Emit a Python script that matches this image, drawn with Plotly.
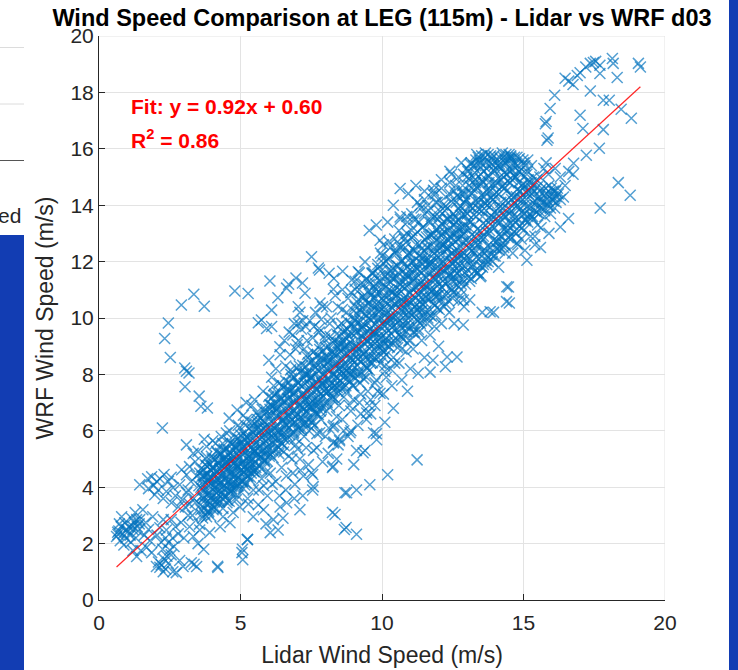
import plotly.graph_objects as go

# ---- data (Lidar wind speed, WRF wind speed), m/s ----
pts_low = [
    (0.62,2.25),(0.67,2.32),(0.70,2.45),(0.75,2.10),(0.78,2.60),(0.85,2.35),(0.91,2.74),(0.95,2.20),(0.98,2.50),(0.72,2.70),(0.88,1.95),(0.66,2.40),(0.80,2.95),
    (1.05,2.60),(1.10,2.30),(1.15,2.90),(1.20,2.50),(1.25,2.75),(1.30,2.20),(1.35,2.60),(1.44,2.85),(1.12,2.05),(1.28,3.10),(1.38,2.45),(1.20,1.75),(1.42,2.70),(1.18,2.62),(1.33,2.85),(1.02,2.42),
    (1.33,1.54),(1.48,1.75),(1.55,3.20),(1.44,4.09),(1.68,1.86),(1.86,1.68),(1.60,2.30),(1.65,2.75),(1.75,2.50),(1.80,2.10),(1.90,2.95),(1.86,4.37),(2.04,4.20),(1.97,3.73),(1.75,3.95),(1.72,4.30),(1.92,4.05),(2.10,3.90),
    (2.03,1.19),(2.27,1.00),(2.15,1.16),(2.10,1.35),(2.20,1.25),(2.30,1.45),(2.35,1.10),(2.45,1.30),(2.61,1.00),(2.73,0.97),(2.40,1.55),(2.50,1.77),(2.45,2.03),(2.38,2.48),(2.15,2.56),(2.27,2.85),(2.05,2.30),(2.20,2.05),(2.55,1.60),(2.65,1.90),(2.60,2.20),(2.70,2.60),(2.55,2.85),(2.80,2.35),(2.90,2.75),(2.25,1.80),(2.35,2.20),
    (2.56,3.45),(2.38,3.85),(2.62,3.98),(2.85,4.09),(2.27,3.60),(2.45,4.20),(2.70,3.70),(2.80,3.30),(2.92,4.62),(2.95,3.55),(2.97,1.19),(2.85,1.40),(2.30,4.45),(2.55,4.35),(2.15,4.30),
    (3.05,3.30),(3.15,3.90),(3.25,4.20),(3.35,3.60),(3.45,4.40),(3.30,3.00),(3.40,4.90),(3.20,3.40),
]

pts_blob = [
    (3.09,4.44),(3.20,4.73),(3.33,5.20),(3.09,5.50),(3.50,5.27),(3.80,5.44),(3.26,1.32),(3.45,1.19),(4.20,1.15),(3.33,2.25),(3.56,2.48),(3.91,2.39),(4.28,2.60),(4.63,2.74),(3.80,2.95),(4.03,3.20),(4.38,2.95),(4.74,3.10),(4.85,3.56),(4.50,3.66),(4.16,3.80),(3.67,3.90),(3.56,4.50),(4.03,4.73),(3.80,5.08),(4.16,5.27),(4.63,5.56),(4.50,5.92),(4.98,5.68),(5.33,5.80),(5.44,5.33),(3.36,1.27),(4.19,1.20),(3.15,3.00),(3.40,3.45),(3.10,3.80),(3.60,3.20),(3.00,2.20),(3.20,2.60),(3.70,1.80),(3.50,2.00),
    (3.60,4.00),(3.70,4.40),(3.75,4.80),(3.85,4.20),(3.90,3.70),(3.95,4.60),(4.00,5.00),(4.05,4.10),(4.10,4.45),(4.15,3.50),(4.20,4.85),(4.25,4.05),(4.30,5.20),(4.35,4.40),(4.40,3.80),(4.45,4.70),(4.50,5.05),(4.55,4.20),(4.60,3.50),(4.65,4.90),(4.70,4.45),(4.75,5.30),(4.80,4.00),(4.85,4.75),(4.90,3.70),(4.95,5.10),(5.00,4.40),(5.05,4.85),(5.10,3.95),(5.15,5.40),(5.20,4.60),(5.25,3.60),(5.30,5.00),(5.35,4.25),(5.40,4.75),(5.45,3.90),(5.50,5.25),
    (4.12,5.55),(4.42,5.35),(4.72,5.00),(4.88,4.30),(5.02,4.62),(5.18,4.15),(5.38,4.50),(4.58,4.55),(4.28,4.65),(3.98,4.35),(4.68,3.95),(4.98,3.30),(5.28,3.40),(4.38,3.25),(3.88,3.15),(4.82,5.45),(5.12,5.70),(4.62,6.00),(4.92,6.20),(5.22,6.40),(4.32,5.80),(4.02,5.65),(3.72,5.70),
    (5.48,4.55),(5.08,4.20),(4.78,4.85),(4.48,4.90),(4.18,4.25),(4.92,4.05),(5.32,4.90),(4.52,3.45),(4.88,6.74),(5.10,6.55),(4.60,6.45),(5.40,6.90),(5.60,6.30),
]

pts_mid = [
    (5.24,2.14),(5.08,1.43),(5.05,1.68),(5.07,1.80),(5.25,2.15),(6.16,2.85),(6.05,2.39),(6.33,2.48),(6.40,3.30),(6.63,3.45),(5.81,3.20),(5.45,2.95),(5.63,3.38),(5.90,2.70),(6.50,2.90),(7.10,3.20),(7.55,3.90),(7.55,4.45),(7.20,3.70),(6.90,3.60),
    (5.55,4.60),(5.60,5.20),(5.65,3.90),(5.70,5.70),(5.75,4.30),(5.80,6.10),(5.85,4.90),(5.90,5.40),(5.95,3.70),(6.00,6.40),(6.05,4.50),(6.10,5.80),(6.15,5.05),(6.20,6.80),(6.25,4.20),(6.30,6.00),(6.35,5.40),(6.40,7.10),(6.45,4.70),(6.50,6.40),(6.55,5.70),(6.60,3.90),(6.65,6.90),(6.70,5.10),(6.75,7.40),(6.80,6.20),(6.85,4.50),(6.90,7.00),(6.95,5.50),(7.00,6.60),(7.05,7.70),(7.10,5.00),(7.15,6.10),(7.20,7.30),(7.25,5.80),(7.30,8.00),(7.35,6.70),(7.40,4.80),(7.45,7.50),(7.50,6.30),
    (5.72,5.05),(5.98,5.85),(6.12,4.10),(6.28,6.55),(6.42,5.95),(6.58,6.20),(6.72,6.50),(6.88,5.95),(7.02,5.35),(7.18,6.85),(7.32,5.40),(7.48,7.00),(5.62,6.55),(5.88,6.75),(6.18,7.25),(6.48,7.60),(6.78,8.00),(7.08,8.30),(7.38,8.60),(6.62,4.40),(6.92,4.10),(7.22,4.40),(5.82,4.05),(6.38,3.70),(7.12,4.60),(6.02,5.10),(6.52,5.25),(7.42,6.00),(6.22,5.55),(6.82,5.00),(5.92,4.55),(7.28,6.25),(6.68,7.15),(6.08,6.90),
    (6.72,9.50),(7.05,9.20),(6.40,8.70),(6.10,7.90),(5.80,7.40),(7.30,9.70),(6.95,8.90),(5.50,7.10),(5.20,7.00),(6.60,8.30),
    (6.39,8.98),(6.00,8.50),(6.55,9.20),(6.85,9.40),(7.15,9.60),(7.45,9.90),(7.65,10.20),(7.90,10.40),(7.35,9.20),(7.60,9.70),(6.25,8.20),(6.75,8.70),(7.00,9.05),(7.25,8.90),(7.55,9.30),(7.85,9.95),(8.04,10.40),(8.35,10.80),(8.60,11.00),(8.90,10.90),(9.20,11.60),
]

pts_outliers = [
    (2.91,10.46),(3.35,10.84),(3.72,10.42),(2.45,9.82),(2.32,9.27),(2.52,8.60),(3.03,8.23),(3.09,8.11),(3.18,8.05),(3.04,7.56),(3.54,7.23),(3.83,6.81),(3.60,6.87),(2.24,6.10),
    (4.80,10.96),(5.27,10.87),(6.04,11.31),(6.32,10.72),(6.63,11.06),(6.96,11.42),(7.19,11.24),(7.28,10.88),(6.70,11.20),(6.10,10.28),(5.74,9.93),(5.63,9.83),(5.92,9.63),(6.10,9.70),(7.04,10.40),(7.10,10.20),(7.04,9.81),(7.20,9.90),(7.78,9.63),(6.90,9.80),
    (7.51,12.17),(7.75,11.77),(7.79,11.70),(8.13,11.59),(8.30,11.40),(8.61,11.66),(8.93,11.35),(9.16,11.64),(9.40,11.99),(8.28,11.02),(7.81,10.53),
    (8.25,3.10),(8.67,2.50),(8.25,4.70),(8.40,5.00),(8.30,5.60),(8.50,5.70),(8.34,3.03),(8.73,2.57),(9.10,2.33),(8.69,3.80),(9.10,3.90),(9.57,4.09),(10.20,4.44),(11.24,4.97),(9.00,4.80),(9.40,5.30),(9.80,5.90),(10.10,6.30),(7.90,4.90),(7.70,5.40),(8.90,6.00),(9.60,6.60),(10.40,6.80),
    (7.45,6.86),(7.80,5.93),(8.27,6.14),(8.65,6.00),(8.87,5.93),(9.46,6.63),(9.70,5.93),(9.81,5.68),(9.33,5.22),(9.10,5.30),(8.27,4.74),(7.51,4.51),(7.57,4.02),(8.75,3.80),(8.28,5.57),(8.50,5.65),(9.93,7.33),(9.60,7.10),
]

pts_upper_mid = [
    (7.55,6.80),(7.60,7.60),(7.65,8.40),(7.70,5.90),(7.75,7.10),(7.80,9.00),(7.85,6.40),(7.90,8.00),(7.95,7.40),(8.00,9.40),(8.05,6.70),(8.10,8.60),(8.15,7.80),(8.20,10.00),(8.25,7.10),(8.30,9.10),(8.35,8.30),(8.40,6.50),(8.45,9.70),(8.50,7.60),(8.55,8.80),(8.60,10.30),(8.65,7.20),(8.70,9.30),(8.75,8.10),(8.80,10.70),(8.85,6.90),(8.90,9.80),(8.95,8.50),(9.00,7.60),(9.05,10.40),(9.10,9.00),(9.15,8.10),(9.20,11.00),(9.25,7.30),(9.30,9.60),(9.35,8.70),(9.40,10.60),(9.45,7.90),(9.50,9.20),(9.55,11.30),(9.60,8.40),(9.65,10.10),(9.70,9.50),(9.75,7.70),(9.80,11.00),(9.85,8.90),(9.90,10.40),(9.95,9.70),(10.00,11.70),(10.05,8.60),(10.10,10.80),(10.15,9.30),(10.20,12.10),(10.25,10.00),(10.30,8.20),(10.35,11.40),(10.40,9.70),(10.45,10.50),(10.50,12.40),
    (7.62,6.20),(7.88,7.70),(8.12,6.10),(8.38,7.90),(8.62,8.50),(8.88,8.00),(9.12,9.50),(9.38,9.10),(9.62,9.90),(9.88,10.00),(10.12,10.30),(10.38,10.90),(7.72,8.70),(8.02,8.20),(8.28,8.70),(8.52,9.00),(8.78,9.60),(9.02,10.00),(9.28,10.20),(9.52,10.50),(9.78,10.70),(10.02,11.10),(10.28,11.50),
    (8.48,6.90),(8.72,7.60),(8.98,7.10),(9.22,7.70),(9.48,8.20),(9.72,8.60),(9.98,9.00),(10.22,9.00),(10.48,9.30),(7.58,5.30),(7.82,6.70),(8.08,7.40),(8.32,7.60),(8.58,8.10),(8.82,9.00),(9.08,8.60),(9.32,9.30),(9.58,9.60),(9.82,9.30),(10.08,9.90),(10.32,10.40),
    (8.15,9.80),(8.45,10.40),(8.75,10.20),(9.05,11.30),(9.35,11.20),(9.65,11.60),(9.95,12.30),(10.25,12.70),(7.50,7.90),(7.78,9.50),(10.45,8.40),(10.15,7.90),(9.85,7.40),(9.55,6.90),(9.25,6.60),
    (7.40,6.20),(7.70,6.60),(8.00,5.80),(8.30,6.20),(8.60,6.40),(8.90,6.70),(9.20,7.00),(9.50,7.40),(9.80,7.80),(10.10,8.10),(8.10,5.20),(8.45,5.50),(8.80,5.80),(9.15,6.20),(9.45,6.40),(9.75,6.90),(10.05,7.30),(10.35,7.60),(10.60,8.40),(10.85,8.80),(11.10,8.90),(11.40,9.20),(11.70,9.40),(12.10,9.80),
]

pts_upper = [
    (10.64,14.59),(10.93,14.41),(10.88,13.60),(10.64,13.58),(9.93,12.76),(10.20,13.40),(10.40,14.00),(11.20,14.70),(11.50,14.50),(11.82,14.53),(12.10,14.90),(12.40,15.20),(12.80,15.50),(9.55,13.10),(9.80,13.30),
    (11.28,8.04),(11.70,8.08),(12.24,8.27),(12.30,8.62),(12.65,8.62),(12.87,9.75),(13.54,10.20),(13.94,10.20),(14.47,11.10),(14.50,10.53),(13.82,10.22),(14.41,11.11),(14.40,10.58),(12.87,10.64),(10.70,7.80),(11.00,8.20),(10.90,7.40),(11.50,8.60),(12.00,9.00),(11.80,8.50),
    (10.55,10.00),(10.60,11.00),(10.65,12.00),(10.70,9.30),(10.75,10.60),(10.80,12.80),(10.85,11.50),(10.90,9.80),(10.95,12.30),(11.00,10.90),(11.05,13.10),(11.10,9.50),(11.15,11.70),(11.20,12.60),(11.25,10.30),(11.30,13.40),(11.35,11.20),(11.40,9.90),(11.45,12.20),(11.50,13.70),(11.55,10.70),(11.60,11.90),(11.65,12.90),(11.70,10.10),(11.75,13.60),(11.80,11.40),(11.85,12.50),(11.90,14.10),(11.95,10.80),(12.00,12.00),(12.05,13.20),(12.10,11.10),(12.15,14.00),(12.20,12.60),(12.25,10.50),(12.30,13.50),(12.35,11.80),(12.40,14.40),(12.45,12.30),(12.50,10.90),(12.55,13.00),(12.60,14.70),(12.65,11.60),(12.70,12.80),(12.75,13.80),(12.80,11.20),(12.85,14.40),(12.90,12.10),(12.95,13.30),(13.00,15.00),
    (10.58,11.60),(10.82,10.30),(11.08,12.00),(11.32,12.00),(11.58,12.50),(11.82,13.00),(12.08,12.50),(12.32,12.80),(12.58,12.00),(12.82,12.90),(10.72,11.30),(10.98,11.70),(11.22,11.10),(11.48,11.50),(11.72,12.00),(11.98,13.50),(12.22,13.80),(12.48,13.50),(12.72,14.30),(12.98,14.20),
    (10.62,12.60),(10.88,13.00),(11.12,13.50),(11.38,13.90),(11.62,14.00),(11.88,14.40),(12.12,13.00),(12.38,13.10),(12.62,13.40),(12.88,15.10),(10.68,10.50),(10.92,10.10),(11.18,10.70),(11.42,10.50),(11.68,11.00),(11.92,11.60),(12.18,11.90),(12.42,11.50),(12.68,12.40),(12.92,11.60),(11.28,9.60),(11.62,10.00),(12.02,10.30),(12.38,10.20),(12.78,10.80),(10.95,9.20),(11.85,9.70),(12.55,9.80),
]

pts_high = [
    (13.05,12.50),(13.10,14.00),(13.15,15.50),(13.20,11.80),(13.25,13.30),(13.30,14.80),(13.35,12.80),(13.40,15.70),(13.45,14.20),(13.50,11.50),(13.55,13.60),(13.60,15.20),(13.65,12.40),(13.70,14.50),(13.75,15.80),(13.80,13.10),(13.85,14.00),(13.90,12.00),(13.95,15.40),(14.00,13.50),(14.05,14.80),(14.10,12.70),(14.15,15.70),(14.20,14.10),(14.25,13.20),(14.30,15.00),(14.35,12.30),(14.40,14.50),(14.45,15.60),(14.50,13.70),(14.55,12.90),(14.60,14.90),(14.65,15.50),(14.70,13.40),(14.75,14.30),(14.80,12.60),(14.85,15.20),(14.90,13.90),(14.95,14.70),(15.00,13.10),(15.05,15.40),(15.10,14.20),(15.15,13.60),(15.20,14.80),(15.25,12.90),(15.30,14.40),(15.35,15.00),(15.40,13.80),(15.45,14.10),(15.50,13.30),
    (13.08,13.20),(13.22,15.00),(13.38,13.90),(13.52,14.90),(13.68,13.80),(13.82,15.50),(13.98,14.40),(14.12,13.90),(14.28,14.70),(14.42,13.30),(14.58,14.20),(14.72,15.00),(14.88,14.50),(15.02,14.00),(15.18,14.50),(15.32,13.60),(13.12,12.10),(13.28,12.30),(13.42,12.60),(13.58,12.90),(13.72,12.20),(13.88,13.60),(14.02,12.50),(14.18,12.90),(14.32,13.60),(14.48,13.10),(14.62,13.60),(14.78,13.90),(14.92,12.80),(15.08,13.50),(15.22,13.70),
    (13.18,14.60),(13.32,15.40),(13.48,15.50),(13.62,14.10),(13.78,14.80),(13.92,14.20),(14.08,15.40),(14.22,15.30),(14.38,15.80),(14.52,15.20),(14.68,15.70),(14.82,14.80),(14.98,15.60),(15.12,15.10),(15.28,15.40),(13.02,13.70),(13.58,11.90),(14.12,11.80),(14.62,12.30),(15.05,12.40),(13.35,15.80),(13.65,15.85),(13.95,15.75),(14.25,15.85),(14.55,15.75),(14.85,15.65),(15.15,15.60),
    (13.30,12.40),(14.17,12.52),(14.76,12.65),(15.40,12.90),(13.47,11.46),(13.10,10.64),(12.90,10.40),(12.70,10.60),
    (15.55,14.30),(15.60,13.90),(15.65,14.60),(15.70,14.10),(15.75,13.60),(15.80,14.40),(15.85,14.00),(15.90,14.70),(15.95,13.70),(16.00,14.20),(16.05,14.50),(16.10,13.90),(16.15,14.30),(16.20,14.60),(16.30,14.20),(16.41,14.29),(15.58,15.00),(15.72,15.30),(15.88,15.10),(15.62,13.20),(15.90,13.00),(15.40,12.60),(15.60,12.50),
    (16.30,13.23),(16.59,13.53),(15.12,12.05),(16.77,15.49),(16.75,15.10),(16.47,14.70),(16.60,15.20),(16.30,15.00),(16.12,15.30),(15.80,15.50),
]

pts_top = [
    (16.47,18.50),(16.75,18.28),(17.00,18.70),(17.36,19.03),(17.47,19.06),(17.70,18.96),(17.70,18.67),(18.14,19.20),(18.17,19.03),(18.31,18.53),(19.06,19.03),(19.13,18.90),(17.36,18.05),(16.10,17.90),(15.94,17.43),(15.80,16.97),(15.87,16.38),(17.00,17.19),(17.10,16.72),(17.82,17.72),(18.03,17.72),(18.45,17.40),(18.81,17.08),(17.82,16.68),(17.68,16.02),(17.22,15.77),(18.35,14.80),(18.77,14.35),(17.71,13.90),(15.83,16.30),(15.77,16.89),(16.90,18.60),(17.20,18.90),(17.55,19.10),(16.60,18.40),
]

# dense core of the cloud (rows read along the band)
pts_core_a = [
    (3.55,2.69),(3.62,3.03),(3.58,3.37),(3.66,3.71),(3.53,4.05),(3.64,4.39),(3.60,4.65),(3.68,3.62),
    (3.74,3.05),(3.83,3.39),(3.78,3.73),(3.86,4.07),(3.72,4.41),(3.81,4.75),(3.77,5.00),(3.88,4.33),
    (3.95,2.98),(4.03,3.31),(3.98,3.65),(4.07,3.99),(3.93,4.34),(4.01,4.68),(3.97,5.10),(4.09,3.48),
    (4.15,3.24),(4.22,3.58),(4.18,3.92),(4.26,4.26),(4.13,4.60),(4.24,4.94),(4.20,5.20),(4.28,4.17),
    (4.34,3.60),(4.43,3.94),(4.38,4.28),(4.46,4.62),(4.32,4.96),(4.41,5.30),(4.37,5.55),(4.48,4.88),
    (4.55,3.53),(4.63,3.86),(4.58,4.20),(4.67,4.54),(4.53,4.89),(4.61,5.23),(4.57,5.65),(4.69,4.03),
    (4.75,3.80),(4.82,4.14),(4.78,4.48),(4.86,4.82),(4.73,5.16),(4.84,5.50),(4.80,5.76),(4.88,4.73),
    (4.94,4.15),(5.03,4.49),(4.98,4.83),(5.06,5.17),(4.92,5.51),(5.01,5.85),(4.97,6.10),(5.08,5.43),
    (5.15,4.08),(5.23,4.41),(5.18,4.75),(5.27,5.09),(5.13,5.44),(5.21,5.78),(5.17,6.20),(5.29,4.58),
    (5.35,4.35),(5.42,4.69),(5.38,5.03),(5.46,5.37),(5.33,5.71),(5.44,6.05),(5.40,6.31),(5.48,5.28),
    (5.54,4.70),(5.63,5.04),(5.58,5.38),(5.66,5.72),(5.52,6.06),(5.61,6.40),(5.57,6.65),(5.68,5.98),
    (5.75,4.64),(5.83,4.97),(5.78,5.31),(5.87,5.65),(5.73,6.00),(5.81,6.34),(5.77,6.76),(5.89,5.14),
]

pts_core_a2 = [
    (3.66,2.91),(3.73,3.25),(3.69,3.59),(3.77,3.93),(3.64,4.27),(3.71,4.61),(3.75,3.42),(3.68,4.10),
    (3.86,3.10),(3.93,3.44),(3.89,3.78),(3.97,4.12),(3.84,4.46),(3.91,4.80),(3.95,3.61),(3.88,4.29),
    (4.06,3.28),(4.13,3.62),(4.09,3.96),(4.17,4.30),(4.04,4.64),(4.11,4.98),(4.15,3.79),(4.08,4.47),
    (4.26,3.47),(4.33,3.81),(4.29,4.15),(4.37,4.49),(4.24,4.83),(4.31,5.17),(4.35,3.98),(4.28,4.66),
    (4.46,3.65),(4.53,3.99),(4.49,4.33),(4.57,4.67),(4.44,5.01),(4.51,5.35),(4.55,4.16),(4.48,4.84),
    (4.66,3.83),(4.73,4.17),(4.69,4.51),(4.77,4.85),(4.64,5.19),(4.71,5.53),(4.75,4.34),(4.68,5.02),
    (4.86,4.02),(4.93,4.36),(4.89,4.70),(4.97,5.04),(4.84,5.38),(4.91,5.72),(4.95,4.53),(4.88,5.21),
    (5.06,4.20),(5.13,4.54),(5.09,4.88),(5.17,5.22),(5.04,5.56),(5.11,5.90),(5.15,4.71),(5.08,5.39),
    (5.26,4.39),(5.33,4.73),(5.29,5.07),(5.37,5.41),(5.24,5.75),(5.31,6.09),(5.35,4.90),(5.28,5.58),
    (5.46,4.57),(5.53,4.91),(5.49,5.25),(5.57,5.59),(5.44,5.93),(5.51,6.27),(5.55,5.08),(5.48,5.76),
    (5.66,4.75),(5.73,5.09),(5.69,5.43),(5.77,5.77),(5.64,6.11),(5.71,6.45),(5.75,5.26),(5.68,5.94),
    (5.86,4.94),(5.93,5.28),(5.89,5.62),(5.97,5.96),(5.84,6.30),(5.91,6.64),(5.95,5.45),(5.88,6.13),
]

pts_core_b = [
    (5.95,4.92),(6.02,5.32),(5.98,5.72),(6.06,6.12),(5.93,6.52),(6.04,6.92),(6.00,7.22),(6.08,6.02),
    (6.14,5.30),(6.23,5.70),(6.18,6.10),(6.26,6.50),(6.12,6.90),(6.21,7.30),(6.17,7.60),(6.28,6.80),
    (6.35,5.19),(6.43,5.59),(6.38,5.99),(6.47,6.39),(6.33,6.79),(6.41,7.19),(6.37,7.69),(6.49,5.79),
    (6.55,5.47),(6.62,5.87),(6.58,6.27),(6.66,6.67),(6.53,7.07),(6.64,7.47),(6.60,7.77),(6.68,6.57),
    (6.74,5.86),(6.83,6.26),(6.78,6.66),(6.86,7.06),(6.72,7.46),(6.81,7.86),(6.77,8.16),(6.88,7.36),
    (6.95,5.74),(7.03,6.14),(6.98,6.54),(7.07,6.94),(6.93,7.34),(7.01,7.74),(6.97,8.24),(7.09,6.34),
    (7.15,6.02),(7.22,6.42),(7.18,6.82),(7.26,7.22),(7.13,7.62),(7.24,8.02),(7.20,8.32),(7.28,7.12),
    (7.34,6.41),(7.43,6.81),(7.38,7.21),(7.46,7.61),(7.32,8.01),(7.41,8.41),(7.37,8.71),(7.48,7.91),
    (7.55,6.29),(7.63,6.69),(7.58,7.09),(7.67,7.49),(7.53,7.89),(7.61,8.29),(7.57,8.79),(7.69,6.89),
    (7.75,6.58),(7.82,6.98),(7.78,7.38),(7.86,7.78),(7.73,8.18),(7.84,8.58),(7.80,8.88),(7.88,7.68),
    (7.94,6.96),(8.03,7.36),(7.98,7.76),(8.06,8.16),(7.92,8.56),(8.01,8.96),(7.97,9.26),(8.08,8.46),
    (8.15,6.84),(8.23,7.24),(8.18,7.64),(8.27,8.04),(8.13,8.44),(8.21,8.84),(8.17,9.34),(8.29,7.44),
    (8.35,7.13),(8.42,7.53),(8.38,7.93),(8.46,8.33),(8.33,8.73),(8.44,9.13),(8.40,9.43),(8.48,8.23),
    (8.54,7.51),(8.63,7.91),(8.58,8.31),(8.66,8.71),(8.52,9.11),(8.61,9.51),(8.57,9.81),(8.68,9.01),
    (8.75,7.40),(8.83,7.80),(8.78,8.20),(8.87,8.60),(8.73,9.00),(8.81,9.40),(8.77,9.90),(8.89,8.00),
]

pts_core_b2 = [
    (6.06,5.16),(6.13,5.56),(6.09,5.96),(6.17,6.36),(6.04,6.76),(6.11,7.16),(6.15,5.76),(6.08,6.56),
    (6.26,5.35),(6.33,5.75),(6.29,6.15),(6.37,6.55),(6.24,6.95),(6.31,7.35),(6.35,5.95),(6.28,6.75),
    (6.46,5.53),(6.53,5.93),(6.49,6.33),(6.57,6.73),(6.44,7.13),(6.51,7.53),(6.55,6.13),(6.48,6.93),
    (6.66,5.71),(6.73,6.11),(6.69,6.51),(6.77,6.91),(6.64,7.31),(6.71,7.71),(6.75,6.31),(6.68,7.11),
    (6.86,5.90),(6.93,6.30),(6.89,6.70),(6.97,7.10),(6.84,7.50),(6.91,7.90),(6.95,6.50),(6.88,7.30),
    (7.06,6.08),(7.13,6.48),(7.09,6.88),(7.17,7.28),(7.04,7.68),(7.11,8.08),(7.15,6.68),(7.08,7.48),
    (7.26,6.27),(7.33,6.67),(7.29,7.07),(7.37,7.47),(7.24,7.87),(7.31,8.27),(7.35,6.87),(7.28,7.67),
    (7.46,6.45),(7.53,6.85),(7.49,7.25),(7.57,7.65),(7.44,8.05),(7.51,8.45),(7.55,7.05),(7.48,7.85),
    (7.66,6.63),(7.73,7.03),(7.69,7.43),(7.77,7.83),(7.64,8.23),(7.71,8.63),(7.75,7.23),(7.68,8.03),
    (7.86,6.82),(7.93,7.22),(7.89,7.62),(7.97,8.02),(7.84,8.42),(7.91,8.82),(7.95,7.42),(7.88,8.22),
    (8.06,7.00),(8.13,7.40),(8.09,7.80),(8.17,8.20),(8.04,8.60),(8.11,9.00),(8.15,7.60),(8.08,8.40),
    (8.26,7.19),(8.33,7.59),(8.29,7.99),(8.37,8.39),(8.24,8.79),(8.31,9.19),(8.35,7.79),(8.28,8.59),
    (8.46,7.37),(8.53,7.77),(8.49,8.17),(8.57,8.57),(8.44,8.97),(8.51,9.37),(8.55,7.97),(8.48,8.77),
    (8.66,7.55),(8.73,7.95),(8.69,8.35),(8.77,8.75),(8.64,9.15),(8.71,9.55),(8.75,8.15),(8.68,8.95),
    (8.86,7.74),(8.93,8.14),(8.89,8.54),(8.97,8.94),(8.84,9.34),(8.91,9.74),(8.95,8.34),(8.88,9.14),
]

pts_core_c = [
    (8.95,7.60),(9.02,8.06),(8.98,8.52),(9.06,8.98),(8.93,9.44),(9.04,9.90),(9.00,10.25),(9.08,8.86),
    (9.14,8.01),(9.23,8.47),(9.18,8.93),(9.26,9.39),(9.12,9.85),(9.21,10.31),(9.17,10.66),(9.28,9.74),
    (9.35,7.85),(9.43,8.31),(9.38,8.77),(9.47,9.23),(9.33,9.70),(9.41,10.16),(9.37,10.73),(9.49,8.54),
    (9.55,8.15),(9.62,8.61),(9.58,9.07),(9.66,9.53),(9.53,9.99),(9.64,10.45),(9.60,10.80),(9.68,9.41),
    (9.74,8.57),(9.83,9.03),(9.78,9.49),(9.86,9.95),(9.72,10.41),(9.81,10.87),(9.77,11.22),(9.88,10.30),
    (9.95,8.40),(10.03,8.86),(9.98,9.32),(10.07,9.78),(9.93,10.25),(10.01,10.71),(9.97,11.28),(10.09,9.09),
    (10.15,8.70),(10.22,9.16),(10.18,9.62),(10.26,10.08),(10.13,10.54),(10.24,11.00),(10.20,11.35),(10.28,9.96),
    (10.34,9.12),(10.43,9.58),(10.38,10.04),(10.46,10.50),(10.32,10.96),(10.41,11.42),(10.37,11.77),(10.48,10.85),
    (10.55,8.95),(10.63,9.41),(10.58,9.87),(10.67,10.33),(10.53,10.80),(10.61,11.26),(10.57,11.83),(10.69,9.64),
    (10.75,9.26),(10.82,9.72),(10.78,10.18),(10.86,10.64),(10.73,11.10),(10.84,11.56),(10.80,11.91),(10.88,10.52),
    (10.94,9.67),(11.03,10.13),(10.98,10.59),(11.06,11.05),(10.92,11.51),(11.01,11.97),(10.97,12.32),(11.08,11.40),
    (11.15,9.50),(11.23,9.96),(11.18,10.42),(11.27,10.88),(11.13,11.35),(11.21,11.81),(11.17,12.38),(11.29,10.19),
    (11.35,9.81),(11.42,10.27),(11.38,10.73),(11.46,11.19),(11.33,11.65),(11.44,12.11),(11.40,12.46),(11.48,11.07),
    (11.54,10.22),(11.63,10.68),(11.58,11.14),(11.66,11.60),(11.52,12.06),(11.61,12.52),(11.57,12.87),(11.68,11.95),
    (11.75,10.06),(11.83,10.52),(11.78,10.98),(11.87,11.44),(11.73,11.91),(11.81,12.37),(11.77,12.94),(11.89,10.75),
    (11.95,10.36),(12.02,10.82),(11.98,11.28),(12.06,11.74),(11.93,12.20),(12.04,12.66),(12.00,13.01),(12.08,11.62),
    (12.14,10.77),(12.23,11.23),(12.18,11.69),(12.26,12.15),(12.12,12.61),(12.21,13.07),(12.17,13.42),(12.28,12.50),
    (12.35,10.61),(12.43,11.07),(12.38,11.53),(12.47,11.99),(12.33,12.46),(12.41,12.92),(12.37,13.49),(12.49,11.30),
    (12.55,10.91),(12.62,11.37),(12.58,11.83),(12.66,12.29),(12.53,12.75),(12.64,13.21),(12.60,13.56),(12.68,12.17),
    (12.74,11.33),(12.83,11.79),(12.78,12.25),(12.86,12.71),(12.72,13.17),(12.81,13.63),(12.77,13.98),(12.88,13.06),
]

pts_core_c2 = [
    (9.06,7.86),(9.13,8.32),(9.09,8.78),(9.17,9.24),(9.04,9.70),(9.11,10.16),(9.15,8.55),(9.08,9.47),(9.12,10.57),(9.05,11.02),
    (9.26,8.05),(9.33,8.51),(9.29,8.97),(9.37,9.43),(9.24,9.89),(9.31,10.35),(9.35,8.74),(9.28,9.66),(9.32,10.76),(9.25,11.21),
    (9.46,8.23),(9.53,8.69),(9.49,9.15),(9.57,9.61),(9.44,10.07),(9.51,10.53),(9.55,8.92),(9.48,9.84),(9.52,10.94),(9.45,11.39),
    (9.66,8.41),(9.73,8.87),(9.69,9.33),(9.77,9.79),(9.64,10.25),(9.71,10.71),(9.75,9.10),(9.68,10.02),(9.72,11.12),(9.65,11.57),
    (9.86,8.60),(9.93,9.06),(9.89,9.52),(9.97,9.98),(9.84,10.44),(9.91,10.90),(9.95,9.29),(9.88,10.21),(9.92,11.31),(9.85,11.76),
    (10.06,8.78),(10.13,9.24),(10.09,9.70),(10.17,10.16),(10.04,10.62),(10.11,11.08),(10.15,9.47),(10.08,10.39),(10.12,11.49),(10.05,11.94),
    (10.26,8.97),(10.33,9.43),(10.29,9.89),(10.37,10.35),(10.24,10.81),(10.31,11.27),(10.35,9.66),(10.28,10.58),(10.32,11.68),(10.25,12.13),
    (10.46,9.15),(10.53,9.61),(10.49,10.07),(10.57,10.53),(10.44,10.99),(10.51,11.45),(10.55,9.84),(10.48,10.76),(10.52,11.86),(10.45,12.31),
    (10.66,9.33),(10.73,9.79),(10.69,10.25),(10.77,10.71),(10.64,11.17),(10.71,11.63),(10.75,10.02),(10.68,10.94),(10.72,12.04),(10.65,12.49),
    (10.86,9.52),(10.93,9.98),(10.89,10.44),(10.97,10.90),(10.84,11.36),(10.91,11.82),(10.95,10.21),(10.88,11.13),(10.92,12.23),(10.85,12.68),
    (11.06,9.70),(11.13,10.16),(11.09,10.62),(11.17,11.08),(11.04,11.54),(11.11,12.00),(11.15,10.39),(11.08,11.31),(11.12,12.41),(11.05,12.86),
    (11.26,9.89),(11.33,10.35),(11.29,10.81),(11.37,11.27),(11.24,11.73),(11.31,12.19),(11.35,10.58),(11.28,11.50),(11.32,12.60),(11.25,13.05),
    (11.46,10.07),(11.53,10.53),(11.49,10.99),(11.57,11.45),(11.44,11.91),(11.51,12.37),(11.55,10.76),(11.48,11.68),(11.52,12.78),(11.45,13.23),
    (11.66,10.25),(11.73,10.71),(11.69,11.17),(11.77,11.63),(11.64,12.09),(11.71,12.55),(11.75,10.94),(11.68,11.86),(11.72,12.96),(11.65,13.41),
    (11.86,10.44),(11.93,10.90),(11.89,11.36),(11.97,11.82),(11.84,12.28),(11.91,12.74),(11.95,11.13),(11.88,12.05),(11.92,13.15),(11.85,13.60),
    (12.06,10.62),(12.13,11.08),(12.09,11.54),(12.17,12.00),(12.04,12.46),(12.11,12.92),(12.15,11.31),(12.08,12.23),(12.12,13.33),(12.05,13.78),
    (12.26,10.81),(12.33,11.27),(12.29,11.73),(12.37,12.19),(12.24,12.65),(12.31,13.11),(12.35,11.50),(12.28,12.42),(12.32,13.52),(12.25,13.97),
    (12.46,10.99),(12.53,11.45),(12.49,11.91),(12.57,12.37),(12.44,12.83),(12.51,13.29),(12.55,11.68),(12.48,12.60),(12.52,13.70),(12.45,14.15),
    (12.66,11.17),(12.73,11.63),(12.69,12.09),(12.77,12.55),(12.64,13.01),(12.71,13.47),(12.75,11.86),(12.68,12.78),(12.72,13.88),(12.65,14.33),
    (12.86,11.36),(12.93,11.82),(12.89,12.28),(12.97,12.74),(12.84,13.20),(12.91,13.66),(12.95,12.05),(12.88,12.97),(12.92,14.07),(12.85,14.52),
]

pts_core_d = [
    (9.55,11.20),(9.70,11.60),(9.85,11.90),(10.00,12.20),(10.15,12.00),(10.30,12.50),(10.45,12.80),(10.60,13.10),(10.75,12.90),(10.90,13.40),(11.05,13.70),(11.20,13.50),(11.35,14.00),(11.50,14.20),(11.65,13.80),(11.80,14.40),(11.95,14.10),(12.10,14.60),(12.25,14.30),(12.40,14.80),(12.55,14.50),(12.70,15.00),(12.85,14.70),(13.00,15.30),
    (9.62,10.90),(9.92,11.50),(10.22,11.70),(10.52,12.30),(10.82,12.50),(11.12,12.90),(11.42,13.20),(11.72,13.40),(12.02,13.60),(12.32,13.90),(12.62,14.10),(12.92,14.40),(10.05,12.60),(10.65,13.50),(11.25,14.10),(11.85,14.70),(12.45,15.10),
    (10.10,8.30),(10.40,8.60),(10.70,8.90),(11.00,9.20),(11.30,9.50),(11.60,9.80),(11.90,10.10),(12.20,10.40),(12.50,10.70),(12.80,11.00),(13.10,11.30),(13.40,11.60),(13.70,11.90),(14.00,12.20),(14.30,12.50),
]

pts_core_e = [
    (12.95,11.20),(13.03,11.70),(12.98,12.20),(13.07,12.70),(12.93,13.20),(13.01,13.70),(12.97,14.20),(13.09,14.70),(13.04,15.20),
    (13.15,11.40),(13.23,11.90),(13.18,12.40),(13.27,12.90),(13.13,13.40),(13.21,13.90),(13.17,14.40),(13.29,14.90),(13.24,15.40),
    (13.35,11.60),(13.43,12.10),(13.38,12.60),(13.47,13.10),(13.33,13.60),(13.41,14.10),(13.37,14.60),(13.49,15.10),(13.44,15.60),
    (13.55,11.80),(13.63,12.30),(13.58,12.80),(13.67,13.30),(13.53,13.80),(13.61,14.30),(13.57,14.80),(13.69,15.30),(13.64,15.70),
    (13.75,12.00),(13.83,12.50),(13.78,13.00),(13.87,13.50),(13.73,14.00),(13.81,14.50),(13.77,15.00),(13.89,15.45),(13.84,15.75),
    (13.95,12.20),(14.03,12.70),(13.98,13.20),(14.07,13.70),(13.93,14.20),(14.01,14.70),(13.97,15.20),(14.09,15.60),
    (14.15,12.40),(14.23,12.90),(14.18,13.40),(14.27,13.90),(14.13,14.40),(14.21,14.90),(14.17,15.35),(14.29,15.70),
    (14.35,12.60),(14.43,13.10),(14.38,13.60),(14.47,14.10),(14.33,14.60),(14.41,15.10),(14.37,15.50),(14.49,15.80),
    (14.55,12.80),(14.63,13.30),(14.58,13.80),(14.67,14.30),(14.53,14.80),(14.61,15.25),(14.57,15.65),
    (14.75,13.00),(14.83,13.50),(14.78,14.00),(14.87,14.50),(14.73,15.00),(14.81,15.40),(14.77,15.70),
    (14.95,13.20),(15.03,13.70),(14.98,14.20),(15.07,14.70),(14.93,15.10),(15.01,15.50),
    (15.15,13.40),(15.23,13.90),(15.18,14.40),(15.27,14.80),(15.13,15.20),
    (15.35,13.50),(15.43,14.00),(15.38,14.50),(15.47,14.90),
    (15.55,13.70),(15.63,14.10),(15.58,14.50),(15.75,13.80),(15.83,14.20),(15.78,14.60),
    (15.95,13.90),(16.03,14.30),(15.98,14.60),(16.15,14.10),(16.23,14.40),
]

pts_core_e2 = [
    (13.06,11.45),(13.13,11.95),(13.09,12.45),(13.17,12.95),(13.04,13.45),(13.11,13.95),(13.15,14.45),(13.08,14.95),(13.12,15.45),
    (13.26,11.65),(13.33,12.15),(13.29,12.65),(13.37,13.15),(13.24,13.65),(13.31,14.15),(13.35,14.65),(13.28,15.15),(13.32,15.60),
    (13.46,11.85),(13.53,12.35),(13.49,12.85),(13.57,13.35),(13.44,13.85),(13.51,14.35),(13.55,14.85),(13.48,15.35),(13.52,15.75),
    (13.66,12.05),(13.73,12.55),(13.69,13.05),(13.77,13.55),(13.64,14.05),(13.71,14.55),(13.75,15.05),(13.68,15.50),
    (13.86,12.25),(13.93,12.75),(13.89,13.25),(13.97,13.75),(13.84,14.25),(13.91,14.75),(13.95,15.25),(13.88,15.65),
    (14.06,12.45),(14.13,12.95),(14.09,13.45),(14.17,13.95),(14.04,14.45),(14.11,14.95),(14.15,15.45),
    (14.26,12.65),(14.33,13.15),(14.29,13.65),(14.37,14.15),(14.24,14.65),(14.31,15.15),(14.35,15.60),
    (14.46,12.85),(14.53,13.35),(14.49,13.85),(14.57,14.35),(14.44,14.85),(14.51,15.30),(14.55,15.70),
    (14.66,13.05),(14.73,13.55),(14.69,14.05),(14.77,14.55),(14.64,15.05),(14.71,15.45),
    (14.86,13.25),(14.93,13.75),(14.89,14.25),(14.97,14.75),(14.84,15.20),
    (15.06,13.45),(15.13,13.95),(15.09,14.45),(15.17,14.90),
    (15.26,13.60),(15.33,14.10),(15.29,14.60),
    (15.46,13.75),(15.53,14.25),(15.49,14.65),
    (15.66,13.90),(15.73,14.35),(15.86,14.05),(15.93,14.45),(16.06,14.15),(16.13,14.50),
]

fit_slope = 0.92
fit_intercept = 0.60
r_squared = 0.86

title_text = "Wind Speed Comparison at LEG (115m) - Lidar vs WRF d03"
x_label = "Lidar Wind Speed (m/s)"
y_label = "WRF Wind Speed (m/s)"

all_pts = (pts_low + pts_blob + pts_mid + pts_outliers + pts_upper_mid + pts_upper + pts_high + pts_top
           + pts_core_a + pts_core_a2 + pts_core_b + pts_core_b2 + pts_core_c + pts_core_c2
           + pts_core_d + pts_core_e + pts_core_e2)
lidar_ws = [p[0] for p in all_pts]
wrf_ws = [p[1] for p in all_pts]

x_fit = [min(lidar_ws), max(lidar_ws)]
y_fit = [fit_slope * v + fit_intercept for v in x_fit]

fig = go.Figure()
fig.add_trace(go.Scatter(
    x=lidar_ws, y=wrf_ws, mode="markers",
    marker=dict(symbol="x-thin", size=11,
                line=dict(width=1.5, color="rgba(0,114,189,0.68)")),
    showlegend=False, hoverinfo="skip"))
fig.add_trace(go.Scatter(
    x=x_fit, y=y_fit, mode="lines",
    line=dict(color="rgba(255,0,0,0.85)", width=1.2),
    showlegend=False, hoverinfo="skip"))

font_fam = "Liberation Sans, Arial, Helvetica, sans-serif"
axis_common = dict(
    showline=True, linecolor="#262626", linewidth=1, mirror=False,
    showgrid=True, gridcolor="#e3e3e3", gridwidth=1,
    ticks="inside", ticklen=6, tickcolor="#262626", tickwidth=1,
    tickfont=dict(family=font_fam, size=21, color="#262626"),
    zeroline=False, automargin=False,
)
fig.update_layout(
    width=738, height=670,
    margin=dict(l=99, r=73, t=36, b=70, autoexpand=False),
    paper_bgcolor="white", plot_bgcolor="white",
    font=dict(family=font_fam, color="#262626"),
    title=dict(text="<b>" + title_text + "</b>", x=0.5, xref="paper", xanchor="center",
               y=1 - 18 / 670, yanchor="middle",
               font=dict(family=font_fam, size=23.5, color="#000000")),
    xaxis=dict(range=[0, 20], dtick=5, tick0=0, ticklabelstandoff=4,
               title=dict(text=x_label, font=dict(family=font_fam, size=23, color="#262626"), standoff=13),
               **axis_common),
    yaxis=dict(range=[0, 20], dtick=2, tick0=0,
               title=dict(text=y_label, font=dict(family=font_fam, size=23, color="#262626"), standoff=10),
               **axis_common),
)

# light border at top/right (MATLAB grid at 20)
fig.add_shape(type="line", xref="x", yref="y", x0=0, x1=20, y0=20, y1=20,
              line=dict(color="#e3e3e3", width=1), layer="below")
fig.add_shape(type="line", xref="x", yref="y", x0=20, x1=20, y0=0, y1=20,
              line=dict(color="#e3e3e3", width=1), layer="below")

fig.add_annotation(text="<b>Fit: y = %.2fx + %.2f</b>" % (fit_slope, fit_intercept),
                   xref="x", yref="y", x=1.05, y=17.5, xanchor="left", yanchor="middle",
                   showarrow=False, font=dict(family=font_fam, size=21, color="#ff0000"))
fig.add_annotation(text="<b>R<sup>2</sup> = %.2f</b>" % r_squared,
                   xref="x", yref="y", x=1.05, y=16.35, xanchor="left", yanchor="middle",
                   showarrow=False, font=dict(family=font_fam, size=21, color="#ff0000"))

# surrounding screenshot context (left panel and right bar)
def px_x(px):
    return (px - 99) / 566.0

def px_y(py):
    return (600 - py) / 564.0

blue = "#123db3"
fig.add_shape(type="rect", xref="paper", yref="paper", x0=px_x(-5), x1=px_x(24),
              y0=px_y(235), y1=px_y(680), fillcolor=blue, line=dict(width=0), layer="above")
fig.add_shape(type="rect", xref="paper", yref="paper", x0=px_x(729), x1=px_x(745),
              y0=px_y(-10), y1=px_y(680), fillcolor=blue, line=dict(width=0), layer="above")
for py, col in [(47.5, "#dcdcdc"), (104, "#dcdcdc"), (160.5, "#555555")]:
    fig.add_shape(type="line", xref="paper", yref="paper", x0=px_x(-5), x1=px_x(24),
                  y0=px_y(py), y1=px_y(py), line=dict(color=col, width=1))
fig.add_annotation(text="ed", xref="paper", yref="paper", x=px_x(23), y=px_y(215),
                   xanchor="right", yanchor="middle", showarrow=False,
                   font=dict(family=font_fam, size=21, color="#262626"))

fig.write_html("out.html")
